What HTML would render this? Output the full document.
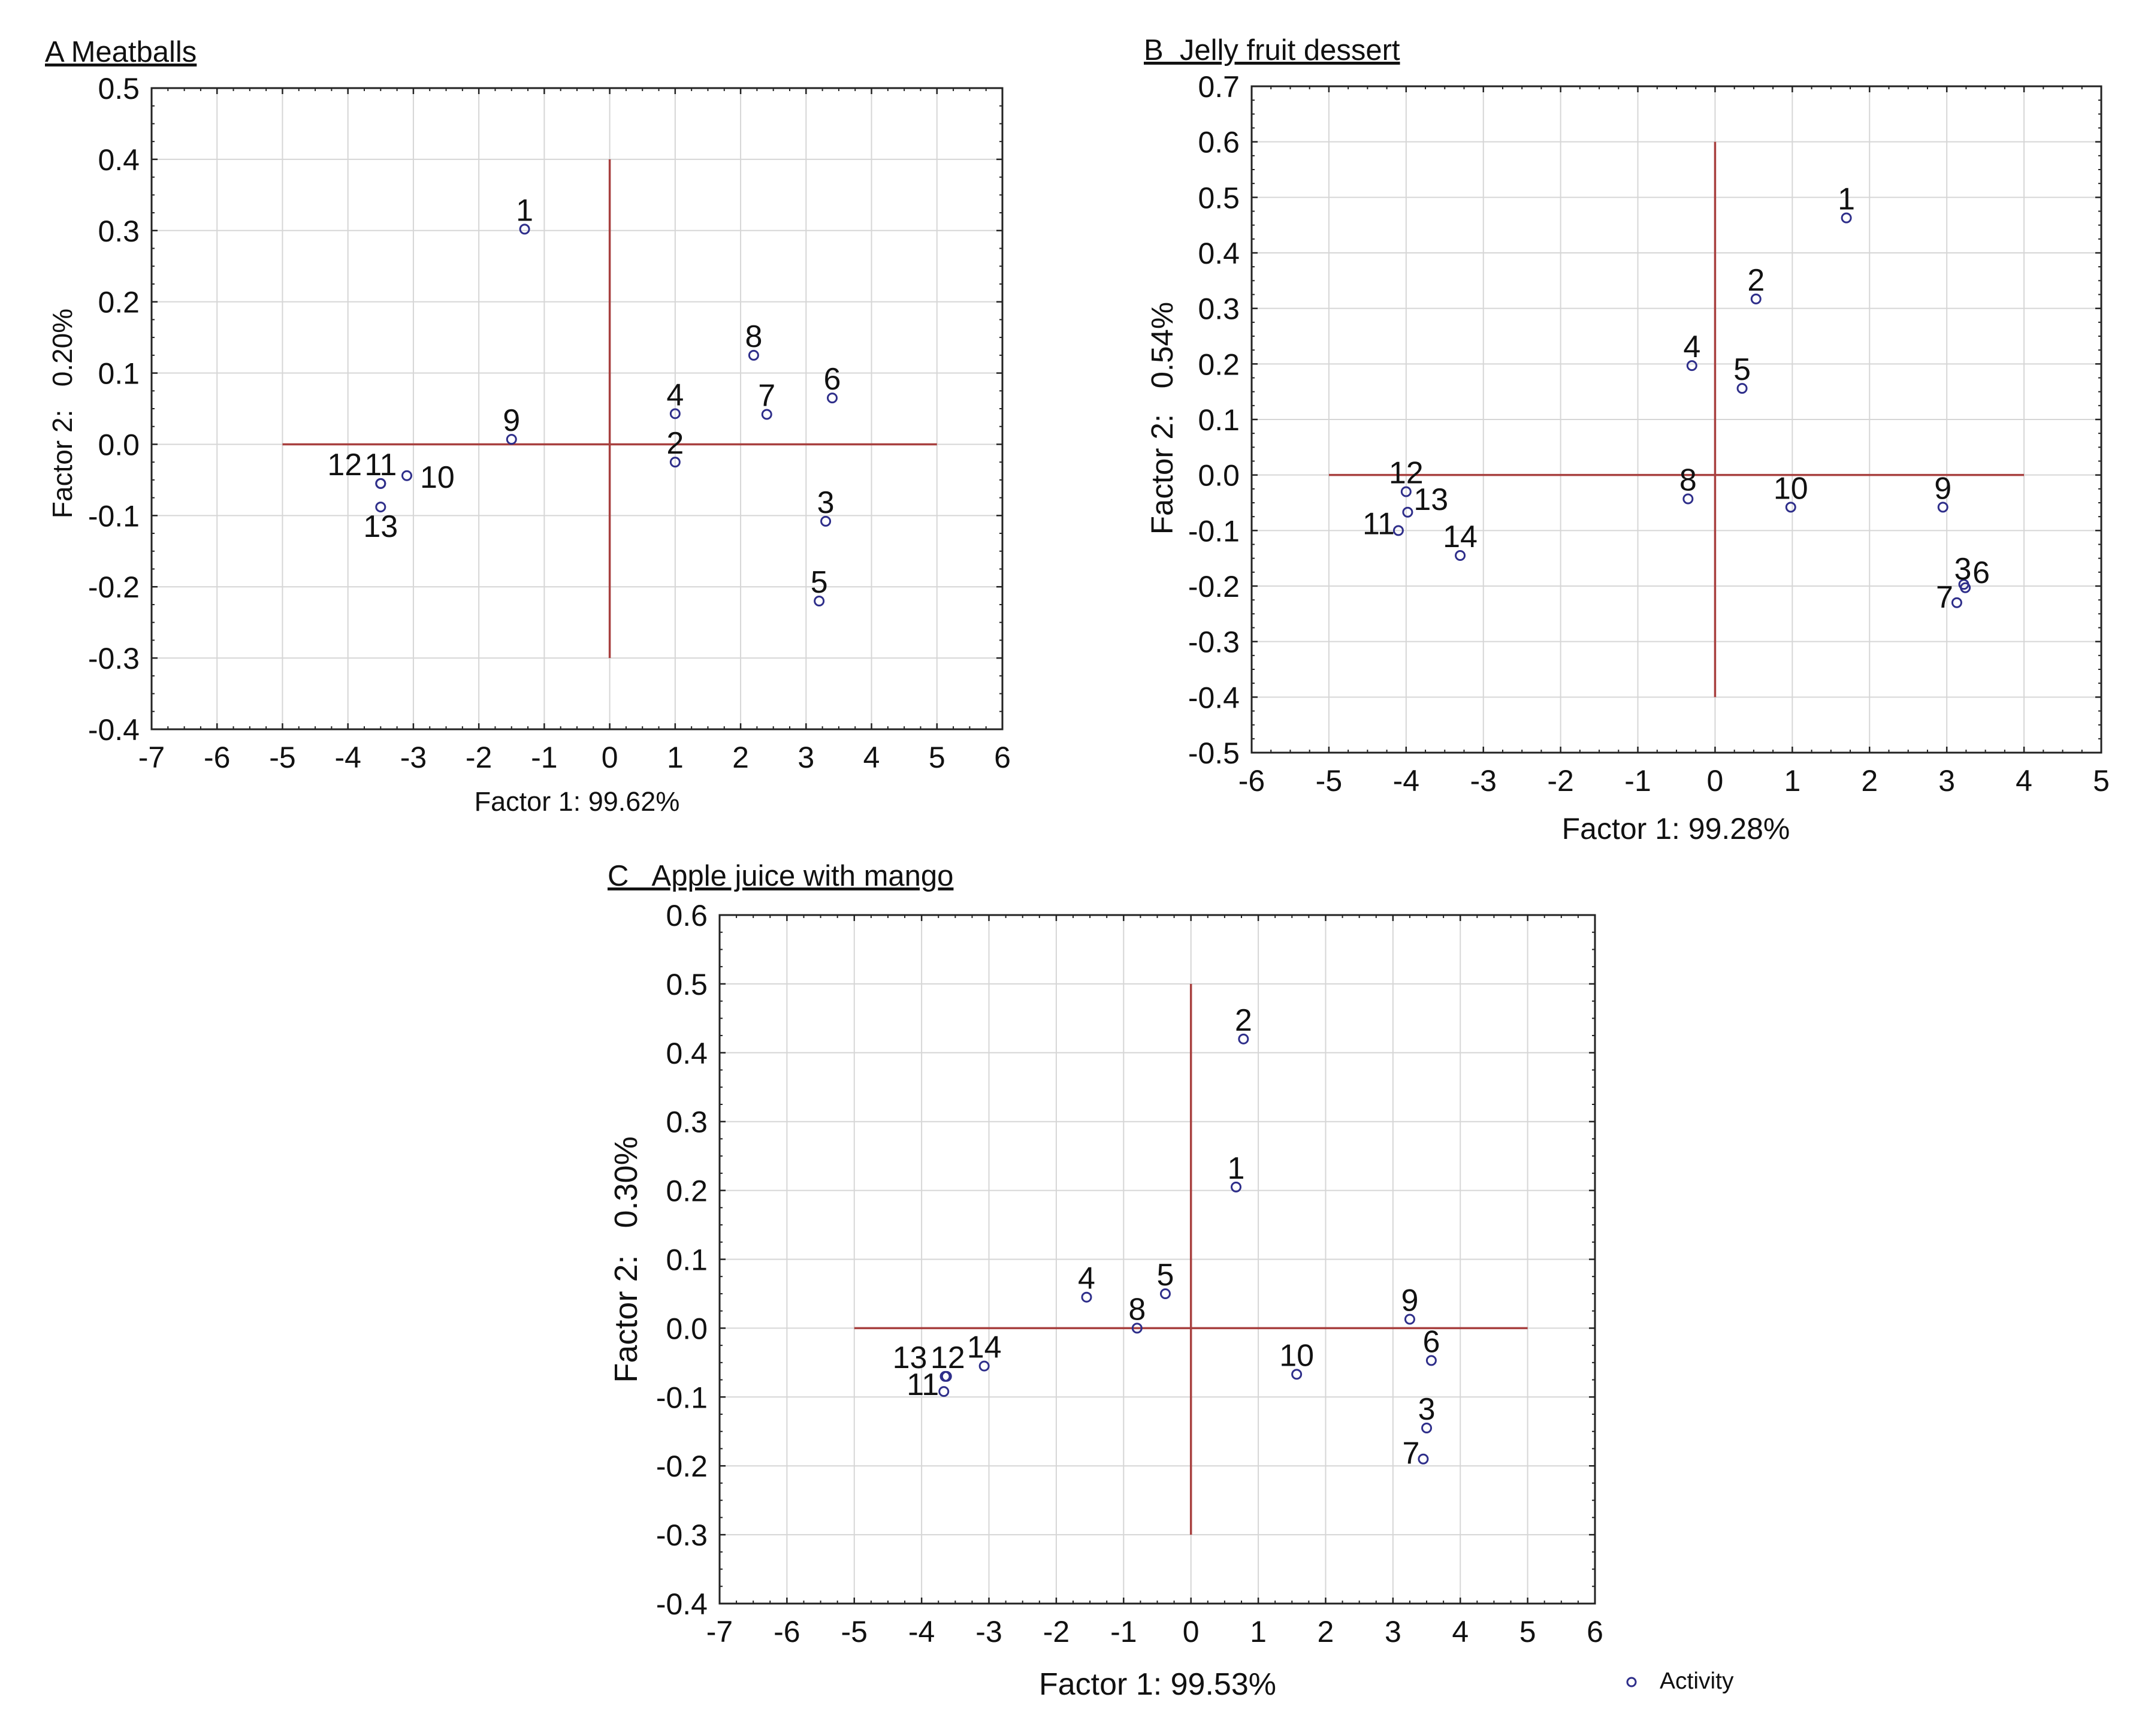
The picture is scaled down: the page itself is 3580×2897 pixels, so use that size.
<!DOCTYPE html>
<html><head><meta charset="utf-8"><title>Factor plots</title>
<style>
html,body{margin:0;padding:0;background:#fff;}
svg{display:block;font-family:"Liberation Sans",Arial,sans-serif;}
</style></head>
<body>
<svg id="fig" xmlns="http://www.w3.org/2000/svg" width="3580" height="2897" viewBox="0 0 3580 2897">
<rect x="0" y="0" width="3580" height="2897" fill="#fff"/>
<g>
<circle cx="2723" cy="2807" r="7" fill="none" stroke="#2e2e8a" stroke-width="3"/>
<text x="2770" y="2818" font-size="39" fill="#111">Activity</text>
</g>
</svg>
<script>
// Panel A: Meatballs
const aLabels = ["1","2","3","4","5","6","7","8","9","10","11","12","13"];
const aF1 = [-1.3, 1.0, 3.3, 1.0, 3.2, 3.4, 2.4, 2.2, -1.5, -3.1, -3.5, -3.5, -3.5];
const aF2 = [0.302, -0.025, -0.108, 0.043, -0.22, 0.065, 0.042, 0.125, 0.007, -0.044, -0.055, -0.055, -0.088];
const aXTicks = [-7,-6,-5,-4,-3,-2,-1,0,1,2,3,4,5,6];
const aYTicks = [-0.4,-0.3,-0.2,-0.1,0.0,0.1,0.2,0.3,0.4,0.5];

// Panel B: Jelly fruit dessert
const bLabels = ["1","2","3","4","5","6","7","8","9","10","11","12","13","14"];
const bF1 = [1.7, 0.53, 3.22, -0.3, 0.35, 3.24, 3.13, -0.35, 2.95, 0.98, -4.1, -4.0, -3.98, -3.3];
const bF2 = [0.463, 0.317, -0.197, 0.197, 0.156, -0.203, -0.23, -0.043, -0.058, -0.058, -0.1, -0.03, -0.067, -0.145];
const bXTicks = [-6,-5,-4,-3,-2,-1,0,1,2,3,4,5];
const bYTicks = [-0.5,-0.4,-0.3,-0.2,-0.1,0.0,0.1,0.2,0.3,0.4,0.5,0.6,0.7];

// Panel C: Apple juice with mango
const cLabels = ["1","2","3","4","5","6","7","8","9","10","11","12","13","14"];
const cF1 = [0.67, 0.78, 3.5, -1.55, -0.38, 3.57, 3.45, -0.8, 3.25, 1.57, -3.67, -3.63, -3.65, -3.07];
const cF2 = [0.205, 0.42, -0.145, 0.045, 0.05, -0.047, -0.19, 0.0, 0.013, -0.067, -0.092, -0.07, -0.07, -0.055];
const cXTicks = [-7,-6,-5,-4,-3,-2,-1,0,1,2,3,4,5,6];
const cYTicks = [-0.4,-0.3,-0.2,-0.1,0.0,0.1,0.2,0.3,0.4,0.5,0.6];

const NS = "http://www.w3.org/2000/svg";
const svg = document.getElementById('fig');
function mk(tag, attrs, parent){
  const e = document.createElementNS(NS, tag);
  for (const k in attrs) e.setAttribute(k, attrs[k]);
  parent.appendChild(e);
  return e;
}

function panel(cfg){
  const g = mk('g', {}, svg);
  
  
  const xd = cfg.xTicks, yd = cfg.yTicks;
  const xmin = xd[0], xmax = xd[xd.length-1], ymin = yd[0], ymax = yd[yd.length-1];
  const X = v => cfg.left + (v - xmin) / (xmax - xmin) * (cfg.right - cfg.left);
  const Y = v => cfg.bottom - (v - ymin) / (ymax - ymin) * (cfg.bottom - cfg.top);

  xd.forEach(t => {
    const l = mk('line', {x1:X(t), x2:X(t), y1:cfg.top, y2:cfg.bottom, stroke:'#d6d6d6', 'stroke-width':2}, g);
    
    
  });
  yd.forEach(t => {
    const l = mk('line', {x1:cfg.left, x2:cfg.right, y1:Y(t), y2:Y(t), stroke:'#d6d6d6', 'stroke-width':2}, g);
    
    
  });
  const h = mk('line', {x1:X(cfg.hLine[0]), x2:X(cfg.hLine[1]), y1:Y(0), y2:Y(0), stroke:'#a8403f', 'stroke-width':3.5}, g);
  
  
  const v = mk('line', {x1:X(0), x2:X(0), y1:Y(cfg.vLine[1]), y2:Y(cfg.vLine[0]), stroke:'#a8403f', 'stroke-width':3.5}, g);
  
  
  const fr = mk('rect', {x:cfg.left, y:cfg.top, width:cfg.right-cfg.left, height:cfg.bottom-cfg.top, fill:'none', stroke:'#222', 'stroke-width':3}, g);
  
  
  for (let i = 0; i < xd.length; i++){
    const t = xd[i];
    [cfg.bottom, cfg.top].forEach((yy, k) => {
      const d = k === 0 ? -1 : 1;
      const tk = mk('line', {x1:X(t), x2:X(t), y1:yy, y2:yy + d*10, stroke:'#222', 'stroke-width':2.5}, g);
      
      
      if (i < xd.length-1){
        for (let m = 1; m < 4; m++){
          const mx = X(t + (xd[i+1]-t)*m/4);
          const mt = mk('line', {x1:mx, x2:mx, y1:yy, y2:yy + d*5, stroke:'#222', 'stroke-width':2}, g);
          
          
        }
      }
    });
    const tl = mk('text', {x:X(t), y:cfg.bottom + 64, 'font-size':50, 'text-anchor':'middle', fill:'#111'}, g);
    tl.textContent = String(t);
    
    
  }
  for (let i = 0; i < yd.length; i++){
    const t = yd[i];
    [cfg.left, cfg.right].forEach((xx, k) => {
      const d = k === 0 ? 1 : -1;
      const tk = mk('line', {x1:xx, x2:xx + d*10, y1:Y(t), y2:Y(t), stroke:'#222', 'stroke-width':2.5}, g);
      
      
      if (i < yd.length-1){
        for (let m = 1; m < 4; m++){
          const my = Y(t + (yd[i+1]-t)*m/4);
          const mt = mk('line', {x1:xx, x2:xx + d*5, y1:my, y2:my, stroke:'#222', 'stroke-width':2}, g);
          
          
        }
      }
    });
    const tl = mk('text', {x:cfg.left - 20, y:Y(t) + 18, 'font-size':50, 'text-anchor':'end', fill:'#111'}, g);
    tl.textContent = t.toFixed(1);
    
    
  }
  for (let i = 0; i < cfg.f1.length; i++){
    const px = X(cfg.f1[i]), py = Y(cfg.f2[i]);
    const c = mk('circle', {cx:px, cy:py, r:7.5, fill:'none', stroke:'#2e2e8a', 'stroke-width':3}, g);
    
    
    const o = cfg.offsets[cfg.labels[i]] || [0, -14, 'middle'];
    const tx = mk('text', {x:px + o[0], y:py + o[1], 'font-size':52, 'text-anchor':o[2], fill:'#111'}, g);
    tx.textContent = cfg.labels[i];
    
    
  }
  const ti = mk('text', {x:cfg.title[1], y:cfg.title[2], 'font-size':49, fill:'#111', 'text-decoration':'underline'}, g);
  ti.textContent = cfg.title[0];
  ti.style.whiteSpace = 'pre';
  
  
  const xt = mk('text', {x:cfg.xTitle[1], y:cfg.xTitle[2], 'font-size':cfg.xTitle[3], 'text-anchor':'middle', fill:'#111'}, g);
  xt.textContent = cfg.xTitle[0];
  
  
  const yt = mk('text', {x:0, y:0, 'font-size':cfg.yTitle[3], 'text-anchor':'middle', fill:'#111', transform:'translate(' + cfg.yTitle[1] + ',' + cfg.yTitle[2] + ') rotate(-90)'}, g);
  yt.textContent = cfg.yTitle[0];
  yt.style.whiteSpace = 'pre';
  
  
}

panel({name:'panel-a-meatballs', left:253, right:1673, top:147, bottom:1217,
  xTicks:aXTicks, yTicks:aYTicks, f1:aF1, f2:aF2, labels:aLabels,
  hLine:[-5,5], vLine:[-0.3,0.4],
  offsets:{'10':[22,20,'start'],'11':[0,-14,'middle'],'12':[-60,-14,'middle'],'13':[0,50,'middle']},
  title:['A Meatballs',75,103], xTitle:['Factor 1: 99.62%',963,1353,45], yTitle:['Factor 2:   0.20%',120,690,46]});

panel({name:'panel-b-jelly-fruit-dessert', left:2089, right:3507, top:144, bottom:1256,
  xTicks:bXTicks, yTicks:bYTicks, f1:bF1, f2:bF2, labels:bLabels,
  hLine:[-5,4], vLine:[-0.4,0.6],
  offsets:{'13':[10,-4,'start'],'11':[-6,6,'end'],'3':[-16,-8,'start'],'6':[12,-8,'start'],'7':[-6,8,'end']},
  title:['B  Jelly fruit dessert',1909,100], xTitle:['Factor 1: 99.28%',2797,1400,50], yTitle:['Factor 2:   0.54%',1957,698,51]});

panel({name:'panel-c-apple-juice-with-mango', left:1201, right:2662, top:1527, bottom:2676,
  xTicks:cXTicks, yTicks:cYTicks, f1:cF1, f2:cF2, labels:cLabels,
  hLine:[-5,5], vLine:[-0.3,0.5],
  offsets:{'13':[-30,-14,'end'],'12':[2,-14,'middle'],'11':[-8,6,'end'],'7':[-6,8,'end']},
  title:['C   Apple juice with mango',1014,1478], xTitle:['Factor 1: 99.53%',1932,2828,52], yTitle:['Factor 2:   0.30%',1063,2102,54]});
</script>
</body></html>
